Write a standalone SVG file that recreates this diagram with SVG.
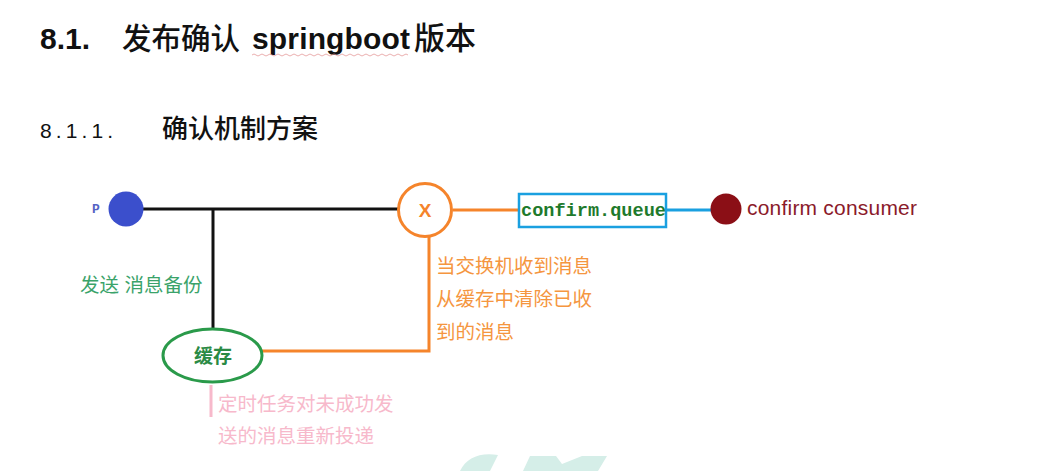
<svg xmlns="http://www.w3.org/2000/svg" width="1045" height="471" viewBox="0 0 1045 471">
<style>
.cjk{font-family:"Liberation Sans","Noto Sans CJK SC",sans-serif}
.lbl{font-size:19.5px}
.orange{fill:#f5963f}
.pink{fill:#f7b9cb}
.green{fill:#3aa36a}
</style>
<rect width="1045" height="471" fill="#ffffff"/>
<g id="watermark" fill="#d5eee8">
<path d="M460 471 C466 458 480 452 498 455 L490 471 Z"/>
<path d="M523 471 L530 456 L556 456 L562 464 L582 456 L607 456 L598 471 Z"/>
</g>
<g id="headings" class="cjk" fill="#111">
<text x="40" y="49" font-size="30" font-weight="bold">8.1.</text>
<text x="122" y="49" font-size="29.5" font-weight="500">发布确认</text>
<text x="252" y="49" font-size="30" font-weight="bold" textLength="158">springboot</text>
<text x="414" y="49" font-size="31" font-weight="500">版本</text>
<path d="M252 55 q2 -2 4 0 t4 0 t4 0 t4 0 t4 0 t4 0 t4 0 t4 0 t4 0 t4 0 t4 0 t4 0 t4 0 t4 0 t4 0 t4 0 t4 0 t4 0 t4 0 t4 0 t4 0 t4 0 t4 0 t4 0 t4 0 t4 0 t4 0 t4 0 t4 0 t4 0 t4 0 t4 0 t4 0 t4 0 t4 0 t4 0 t4 0 t4 0 t4 0" fill="none" stroke="#e49a9a" stroke-width="0.8"/>
<text x="40" y="138" font-size="21" textLength="73" lengthAdjust="spacing">8.1.1.</text>
<text x="162" y="138" font-size="26" font-weight="500">确认机制方案</text>
</g>
<g id="connectors" fill="none" stroke-width="3">
<path d="M143 209 H398" stroke="#111"/>
<path d="M213 209 V330" stroke="#111"/>
<path d="M453 210 H519" stroke="#f5842b"/>
<path d="M666 210 H711" stroke="#1aa0e0"/>
<path d="M429 236 V351 H262" stroke="#f5842b"/>
<path d="M211 385 V417" stroke="#f7b9cb"/>
</g>
<g id="producer">
<circle cx="126" cy="209" r="17.5" fill="#3b4fcc"/>
<text x="92" y="213" font-family="Liberation Mono,monospace" font-size="13" font-weight="bold" fill="#5563c4">P</text>
</g>
<g id="exchange">
<circle cx="425" cy="210" r="26.5" fill="#fff" stroke="#f5842b" stroke-width="3"/>
<text x="425" y="217" text-anchor="middle" font-family="Liberation Sans,sans-serif" font-size="19" font-weight="bold" fill="#f5842b">X</text>
</g>
<g id="queue">
<rect x="519" y="194" width="147" height="33" fill="#fff" stroke="#1aa0e0" stroke-width="2.5"/>
<text x="521" y="216" font-family="Liberation Mono,monospace" font-size="18" font-weight="bold" fill="#1e7a2c" textLength="145" lengthAdjust="spacingAndGlyphs">confirm.queue</text>
</g>
<g id="consumer">
<circle cx="726" cy="209" r="15.5" fill="#8b0f16"/>
<text x="747" y="215" font-family="Liberation Sans,sans-serif" font-size="21" fill="#8b1a2a" textLength="170">confirm consumer</text>
</g>
<g id="cache">
<ellipse cx="212.5" cy="355.5" rx="49.5" ry="26.5" fill="#fff" stroke="#2a9a4a" stroke-width="3"/>
<text x="213" y="363" text-anchor="middle" class="cjk" font-size="19" font-weight="bold" fill="#2a8a44">缓存</text>
</g>
<g id="labels" class="cjk lbl">
<text x="80" y="292" class="green">发送 消息备份</text>
<text x="436" y="273" class="orange">当交换机收到消息</text>
<text x="436" y="306" class="orange">从缓存中清除已收</text>
<text x="436" y="339" class="orange">到的消息</text>
<text x="218" y="411" class="pink">定时任务对未成功发</text>
<text x="218" y="443" class="pink">送的消息重新投递</text>
</g>
</svg>
